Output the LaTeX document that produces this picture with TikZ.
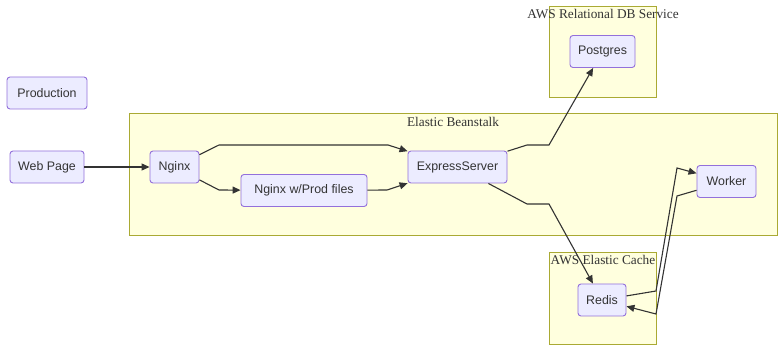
\documentclass[tikz,border=0pt]{standalone}
\usepackage{fontspec}
\setmainfont{Liberation Serif}
\setsansfont{Liberation Sans}
\usetikzlibrary{arrows.meta}

\definecolor{boxfill}{HTML}{ECECFF}
\definecolor{boxline}{HTML}{9370DB}
\definecolor{groupfill}{HTML}{FFFFDE}
\definecolor{groupline}{HTML}{AAAA33}
\definecolor{linkcol}{HTML}{333333}

\begin{document}
\begin{tikzpicture}[x=1pt,y=-1pt,
                    box/.style={draw=boxline,fill=boxfill,rounded corners=3pt,line width=0.9pt,
                                minimum height=32pt,inner xsep=0pt,text=linkcol,
                                font=\sffamily\fontsize{12.4}{14}\selectfont},
                    group/.style={draw=groupline,fill=groupfill,line width=0.9pt},
                    grouplabel/.style={text=linkcol,inner sep=0pt,font=\fontsize{13.3}{15}\selectfont},
                    link/.style={draw=linkcol,line width=1.1pt,-{Triangle[length=8pt,width=7pt]}}
]
\useasboundingbox (0,0) rectangle (784,352);

% clusters
\draw [group] (129,113) rectangle (777,235);
\node [grouplabel] (beanstalk) at (453,122) {Elastic Beanstalk};
\draw [group] (549,6) rectangle (656,97);
\node [grouplabel] (rds) at (603,14) {AWS Relational DB Service};
\draw [group] (549,252) rectangle (656,344);
\node [grouplabel] (cache) at (603,260) {AWS Elastic Cache};
%
\node [box, minimum width=80pt] at (47,93) (prod) {Production};
\node [box, minimum width=74pt] at (47,167) (web) {Web Page};
\node [box, minimum width=49pt] at (174.5,167) (nginx) {Nginx};
\node [box, minimum width=126pt] at (304,190.5) (nginxfiles) {Nginx w/Prod files};
\node [box, minimum width=99pt] at (457.5,167) (express) {ExpressServer};
\node [box, minimum width=59pt] at (726.5,181.5) (worker) {Worker};
\node [box, minimum width=65pt] at (602.5,51.5) (pg) {Postgres};
\node [box, minimum width=48pt] at (602,300) (redis) {Redis};
%
\draw [link] (web) -- (nginx);
\draw [link] (nginx) -- (219,145) -- (388,145) -- (express);
\draw [link] (nginx) -- (219,190) -- (nginxfiles);
\draw [link] (nginxfiles) -- (387,190) -- (express);
\draw [link] (express) -- (527,145) -- (549,145) -- (pg);
\draw [link] (express) -- (527,204) -- (549,204) -- (redis);
%
\draw [link] (redis) -- (656,291) -- (677,168) -- (worker);
\draw [link] (worker) -- (677,196) -- (656,314) -- (redis);
\end{tikzpicture}
\end{document}
